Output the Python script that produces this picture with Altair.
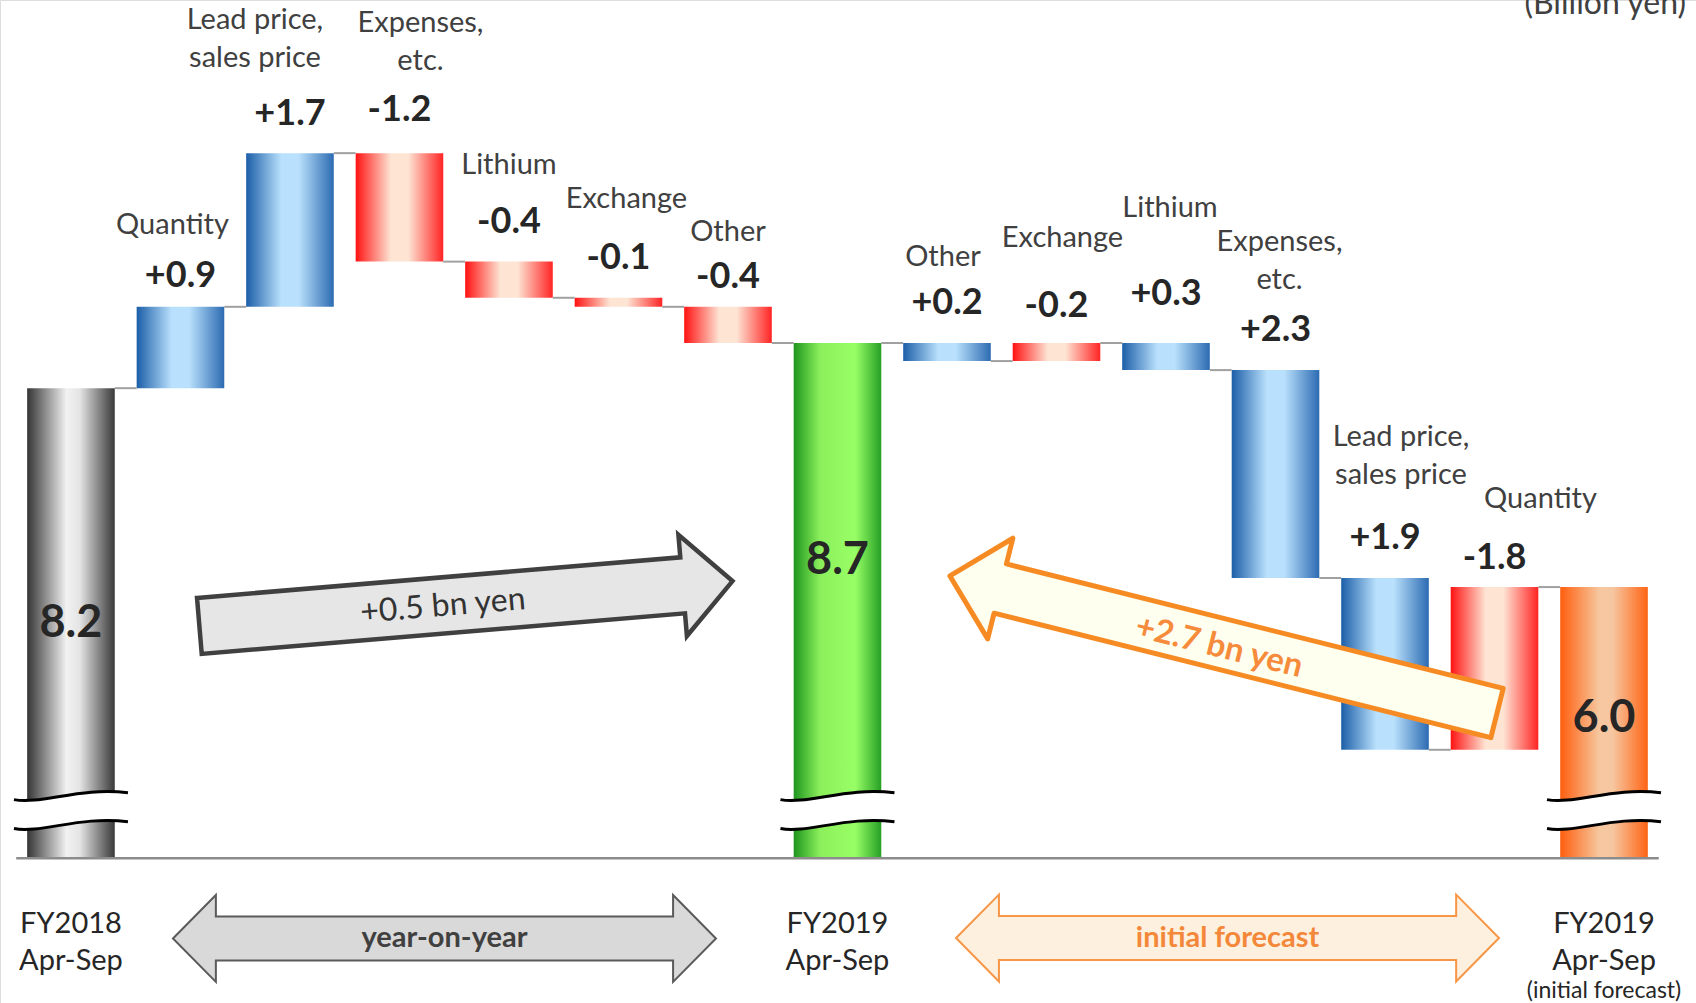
import altair as alt
import pandas as pd

# ---------------- values (billion yen) ----------------
period_labels = ["FY2018\nApr-Sep", "FY2019\nApr-Sep", "FY2019\nApr-Sep"]
period_notes = ["", "", "(initial forecast)"]
period_totals = [8.2, 8.7, 6.0]

# year-on-year factors (FY2018 -> FY2019)
yoy_factors = ["Quantity", "Lead price,\nsales price", "Expenses,\netc.",
               "Lithium", "Exchange", "Other"]
yoy_changes = [0.9, 1.7, -1.2, -0.4, -0.1, -0.4]

# factors against the initial forecast (FY2019 actual -> forecast)
plan_factors = ["Other", "Exchange", "Lithium", "Expenses,\netc.",
                "Lead price,\nsales price", "Quantity"]
plan_changes = [0.2, -0.2, 0.3, 2.3, 1.9, -1.8]

UNIT = "(Billion yen)"

# ---------------- layout ----------------
W, H = 1696, 1003
BASE = 3.0        # foot of the broken value axis
BREAK_AT = 3.52   # where the break marks cut the total bars
HALF = 0.4        # half bar width in category steps
X_DOM = [-0.648, 14.84]
Y_DOM = [1.399, 12.494]
XS = alt.Scale(domain=X_DOM, nice=False, zero=False)
YS = alt.Scale(domain=Y_DOM, nice=False, zero=False)
PX_X = W / (X_DOM[1] - X_DOM[0])   # pixels per category step
PX_Y = H / (Y_DOM[1] - Y_DOM[0])   # pixels per billion yen
FONT = "Lato"
LINE = 38

# label placement above each step bar, in pixels (left to right)
name_gap = [82, 95, 92, 97, 99, 75, 86, 105, 135, 90, 103, 88]
name_dx = [-8, -35, 21, 0, 8, 0, -4, 6, 4, 4, 16, 46]
value_gap = [31, 39, 43, 40, 40, 30, 40, 37, 49, 40, 40, 29]
total_lift = [0, 41, 5]


def X(field):
    return alt.X(field, type="quantitative", scale=XS, axis=None)


def Y(field):
    return alt.Y(field, type="quantitative", scale=YS, axis=None)


# ---------------- waterfall table ----------------
rows = []


def add(kind, name, lo, hi, end, text):
    i = len(rows)
    rows.append(dict(idx=i, x0=i - HALF, x1=i + HALF, kind=kind, name=name,
                     lo=lo, hi=hi, end=end, mid=(lo + hi) / 2, text=text))


add("t0", period_labels[0], BASE, period_totals[0], period_totals[0], f"{period_totals[0]:.1f}")
level = period_totals[0]
for name, d in zip(yoy_factors, yoy_changes):
    new = round(level + d, 2)
    add("up" if d > 0 else "down", name, min(level, new), max(level, new), new, f"{d:+.1f}")
    level = new
add("t1", period_labels[1], BASE, period_totals[1], period_totals[1], f"{period_totals[1]:.1f}")
level = period_totals[1]
for name, d in zip(plan_factors, plan_changes):
    new = round(level - d, 2)
    add("up" if d > 0 else "down", name, min(level, new), max(level, new), new, f"{d:+.1f}")
    level = new
add("t2", period_labels[2], BASE, period_totals[2], period_totals[2], f"{period_totals[2]:.1f}")

bars = pd.DataFrame(rows)
n = len(bars)

conn = pd.DataFrame({
    "x": bars["x1"][:-1].values,
    "x2": bars["x0"][1:].values,
    "y": bars["end"][:-1].values,
})

totals = bars[bars["kind"].str.startswith("t")].copy()
totals["note"] = period_notes
totals["yb"] = BREAK_AT
totals["base"] = BASE
totals["ty"] = totals["mid"].values + [v / PX_Y for v in total_lift]

steps = bars[~bars["kind"].str.startswith("t")].copy()
lines = steps["name"].str.count("\n").values
steps["ny"] = steps["hi"].values + (pd.Series(name_gap).values + lines * LINE) / PX_Y
steps["nx"] = steps["idx"].values + pd.Series(name_dx).values / PX_X
steps["vy"] = steps["hi"].values + pd.Series(value_gap).values / PX_Y


def grad(*stops):
    return alt.Gradient(gradient="linear", x1=0, x2=1, y1=0, y2=0,
                        stops=[alt.GradientStop(offset=o, color=c) for o, c in stops])


FILLS = {
    "t0": grad((0, "#353535"), (0.45, "#f2f2f2"), (0.6, "#e4e4e4"), (1, "#393939")),
    "t1": grad((0, "#1e961e"), (0.3, "#8bef5b"), (0.7, "#99ff66"), (1, "#25a025")),
    "t2": grad((0, "#ff5e0e"), (0.45, "#f6c8a0"), (0.6, "#f6c6a0"), (1, "#ff6414")),
    "up": grad((0, "#1b5ea8"), (0.4, "#b9e0fc"), (0.6, "#b9e0fc"), (1, "#2c6bb2")),
    "down": grad((0, "#ff1212"), (0.4, "#fde4d3"), (0.6, "#fde4d3"), (1, "#ff2424")),
}

bar_layers = [
    alt.Chart(bars).transform_filter(alt.datum.kind == k)
    .mark_bar(color=fill)
    .encode(x=X("x0"), x2="x1", y=Y("lo"), y2="hi")
    for k, fill in FILLS.items()
]

connectors = alt.Chart(conn).mark_rule(color="#a0a0a0", strokeWidth=2).encode(
    x=X("x"), x2="x2", y=Y("y"))

axis_line = alt.Chart(pd.DataFrame({"a": [-0.5], "b": [n - 0.5], "y": [BASE]})).mark_rule(
    color="#8c8c8c", strokeWidth=2.5).encode(x=X("a"), x2="b", y=Y("y"))

# ---- axis break marks (white band with two wavy edges) ----
BAND = ("M -1 -0.204 C -0.53 -0.114 0.18 -0.434 1 -0.324 L 1 0.184 "
        "C 0.18 0.074 -0.53 0.394 -1 0.304 Z")
WAVES = ("M -1 -0.204 C -0.53 -0.114 0.18 -0.434 1 -0.324 "
         "M -1 0.304 C -0.53 0.394 0.18 0.074 1 0.184")
band = alt.Chart(totals).mark_point(shape=BAND, size=114 ** 2, filled=True, fill="white",
                                    opacity=1, strokeWidth=0).encode(x=X("idx"), y=Y("yb"))
waves = alt.Chart(totals).mark_point(shape=WAVES, size=114 ** 2, filled=False, stroke="black",
                                     strokeWidth=3, opacity=1).encode(x=X("idx"), y=Y("yb"))

# ---- labels ----
value_labels = alt.Chart(steps).mark_text(
    font=FONT, fontSize=36, fontWeight="bold", color="#262626",
    baseline="middle").encode(x=X("idx"), y=Y("vy"), text="text:N")

name_labels = alt.Chart(steps).mark_text(
    font=FONT, fontSize=29, color="#404040", baseline="middle",
    lineBreak="\n", lineHeight=LINE).encode(x=X("nx"), y=Y("ny"), text="name:N")

total_labels = alt.Chart(totals).mark_text(
    font=FONT, fontSize=45, fontWeight="bold", color="#262626",
    baseline="middle").encode(x=X("idx"), y=Y("ty"), text="text:N")

period_text = alt.Chart(totals).mark_text(
    font=FONT, fontSize=29, color="#262626", baseline="top", dy=52,
    lineBreak="\n", lineHeight=37).encode(x=X("idx"), y=Y("base"), text="name:N")

note_text = alt.Chart(totals).mark_text(
    font=FONT, fontSize=23, color="#262626", baseline="top", dy=122).encode(
    x=X("idx"), y=Y("base"), text="note:N")

unit_text = alt.Chart(pd.DataFrame({"t": [UNIT]})).mark_text(
    font=FONT, fontSize=32, color="#404040", align="right", baseline="alphabetic").encode(
    x=alt.value(1686), y=alt.value(14), text="t:N")

# ---- difference arrows ----
yoy_gap = round(period_totals[1] - period_totals[0], 1)
plan_gap = round(period_totals[1] - period_totals[2], 1)

ARROW_YOY = ("M -1 -0.105 L 0.813 -0.105 L 0.813 -0.19 L 1 0 L 0.813 0.19 "
             "L 0.813 0.105 L -1 0.105 Z")
ARROW_PLAN = ("M -1 -0.09 L 0.816 -0.09 L 0.816 -0.184 L 1 0 L 0.816 0.184 "
              "L 0.816 0.09 L -1 0.09 Z")
DOUBLE = ("M -1 0 L -0.842 -0.16 L -0.842 -0.081 L 0.842 -0.081 L 0.842 -0.16 L 1 0 "
          "L 0.842 0.16 L 0.842 0.081 L -0.842 0.081 L -0.842 0.16 Z")

yoy_arrow = alt.Chart(pd.DataFrame({"x": [3.607], "y": [5.818]})).mark_point(
    shape=ARROW_YOY, size=535 ** 2, angle=355.2, filled=True, fill="#e6e6e6",
    stroke="#404040", strokeWidth=4.5, strokeJoin="miter", opacity=1).encode(x=X("x"), y=Y("y"))
yoy_arrow_text = alt.Chart(pd.DataFrame({"x": [3.397], "y": [5.791],
                                         "t": [f"{yoy_gap:+.1f} bn yen"]})).mark_text(
    font=FONT, fontSize=32, color="#333333", angle=355.2, baseline="middle").encode(
    x=X("x"), y=Y("y"), text="t:N")

plan_arrow = alt.Chart(pd.DataFrame({"x": [10.525], "y": [5.365]})).mark_point(
    shape=ARROW_PLAN, size=564 ** 2, angle=194.06, filled=True, fill="#fffff0",
    stroke="#f68b24", strokeWidth=5, strokeJoin="round", opacity=1).encode(x=X("x"), y=Y("y"))
plan_arrow_text = alt.Chart(pd.DataFrame({"x": [10.484], "y": [5.337],
                                          "t": [f"{plan_gap:+.1f} bn yen"]})).mark_text(
    font=FONT, fontSize=33, fontWeight="bold", color="#f68b3c", angle=14,
    baseline="middle").encode(x=X("x"), y=Y("y"), text="t:N")

# ---- comparison spans under the axis ----
spans = pd.DataFrame({
    "x": [3.411, 10.562],
    "y": [2.113, 2.118],
    "t": ["year-on-year", "initial forecast"],
})
span_yoy = alt.Chart(spans.iloc[[0]]).mark_point(
    shape=DOUBLE, size=543 ** 2, filled=True, fill="#d9d9d9", stroke="#5a5a5a",
    strokeWidth=2, opacity=1).encode(x=X("x"), y=Y("y"))
span_plan = alt.Chart(spans.iloc[[1]]).mark_point(
    shape=DOUBLE, size=543 ** 2, filled=True, fill="#fdf0de", stroke="#f79646",
    strokeWidth=2, opacity=1).encode(x=X("x"), y=Y("y"))
span_yoy_text = alt.Chart(spans.iloc[[0]]).mark_text(
    font=FONT, fontSize=29, fontWeight="bold", color="#404040", baseline="middle").encode(
    x=X("x"), y=Y("y"), text="t:N")
span_plan_text = alt.Chart(spans.iloc[[1]]).mark_text(
    font=FONT, fontSize=29, fontWeight="bold", color="#f4883a", baseline="middle").encode(
    x=X("x"), y=Y("y"), text="t:N")

chart = alt.layer(
    *bar_layers, connectors, axis_line, band, waves,
    value_labels, name_labels, total_labels, period_text, note_text, unit_text,
    yoy_arrow, yoy_arrow_text, plan_arrow, plan_arrow_text,
    span_yoy, span_plan, span_yoy_text, span_plan_text,
).properties(
    width=W, height=H, padding=0,
    autosize=alt.AutoSizeParams(type="none"),
).configure_view(stroke=None).configure(background="white")

chart.save("out.html", embed_options={"renderer": "svg", "actions": False})
